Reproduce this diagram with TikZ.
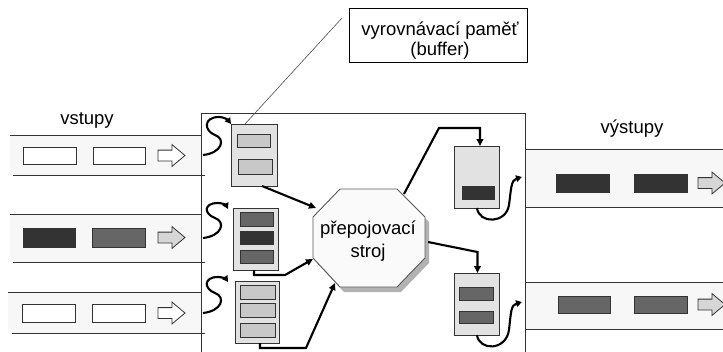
\documentclass[tikz,border=0pt]{standalone}
\usepackage{fontspec}
\setmainfont{Liberation Sans}
\usetikzlibrary{arrows.meta,calc,shapes.arrows}
\definecolor{lanefill}{HTML}{F7F7F7}
\definecolor{buffill}{HTML}{E2E2E2}
\definecolor{pkl}{HTML}{C8C8C8}
\definecolor{pkm}{HTML}{666666}
\definecolor{pkd}{HTML}{333333}
\definecolor{edgec}{HTML}{333333}
\definecolor{arrfill}{HTML}{D6D6D6}
\newcommand\mybox[6]{\node[#6, minimum width={#4-#2}, minimum height={#5-#3}] (#1) at ({(#2+#4)/2},{(#3+#5)/2}) {};}
\tikzset{
  lbl/.style={font=\fontsize{18.5}{20}\selectfont, inner sep=0pt},
  laneline/.style={draw=edgec, line width=0.9pt},
  pkt/.style={draw=edgec, line width=0.8pt, inner sep=0pt, outer sep=0pt},
  buf/.style={draw=edgec, line width=0.9pt, fill=buffill, inner sep=0pt, outer sep=0pt},
  blk/.style={single arrow, draw=edgec, line width=0.8pt, inner sep=5pt, single arrow head extend=5.5pt, single arrow tip angle=80, minimum height=27pt, anchor=west, outer sep=0pt},
  conn/.style={line width=2.1pt, -{Triangle[length=7pt,width=6.5pt]}},
  curvy/.style={line width=2.1pt, -{Triangle[length=6pt,width=6.5pt]}},
}
\begin{document}
\begin{tikzpicture}[x=1pt,y=-1pt]
\useasboundingbox (0,0) rectangle (723,351);
\clip (0,0) rectangle (723,351);
% input lanes
\fill[lanefill] (10,135) rectangle (204,175);
\draw[laneline] (10,135) -- (201,135);
\draw[laneline] (13,175) -- (204,175);
\fill[lanefill] (10,214) rectangle (204,262);
\draw[laneline] (10,214) -- (201,214);
\draw[laneline] (13,262) -- (204,262);
\fill[lanefill] (8,292) rectangle (204,333);
\draw[laneline] (8,292) -- (201,292);
\draw[laneline] (12,333) -- (204,333);
% output lanes
\fill[lanefill] (525,149) rectangle (723,207);
\draw[laneline] (525,149) -- (723,149);
\draw[laneline] (525,207) -- (723,207);
\fill[lanefill] (525,282) rectangle (723,329);
\draw[laneline] (525,282) -- (723,282);
\draw[laneline] (525,329) -- (723,329);
% main box
\draw[draw=edgec, line width=0.9pt, fill=white] (201,113) rectangle (525,360);
\draw[laneline] (201,175) -- (205,175);
\draw[laneline] (201,262) -- (205,262);
\draw[laneline] (201,333) -- (205,333);
% labels
\node[lbl] (vin) at (87,120) {vstupy};
\node[lbl] (vout) at (632,129) {výstupy};
% input packets
\mybox{i1a}{23}{147}{76}{164}{pkt, fill=white}
\mybox{i1b}{93}{147}{145}{164}{pkt, fill=white}
\node[blk, fill=white] (i1c) at (158,155.5) {};
\mybox{i2a}{23}{228}{75}{247}{pkt, fill=pkd}
\mybox{i2b}{92}{228}{145}{247}{pkt, fill=pkm}
\node[blk, fill=arrfill] (i2c) at (158,237.5) {};
\mybox{i3a}{22}{304}{75}{322}{pkt, fill=white}
\mybox{i3b}{92}{304}{145}{322}{pkt, fill=white}
\node[blk, fill=white] (i3c) at (158,313) {};
% output packets
\mybox{o1a}{556}{174}{609}{192}{pkt, fill=pkd}
\mybox{o1b}{634}{174}{687}{192}{pkt, fill=pkd}
\node[blk, fill=arrfill] (o1c) at (698,183) {};
\mybox{o2a}{558}{296}{610}{313}{pkt, fill=pkm}
\mybox{o2b}{634}{296}{687}{313}{pkt, fill=pkm}
\node[blk, fill=arrfill] (o2c) at (698,304.5) {};
% input buffers
\mybox{b1}{231}{124}{277}{186}{buf}
\mybox{b1a}{237}{134}{270}{147}{pkt, fill=pkl}
\mybox{b1b}{238}{159}{272}{174}{pkt, fill=pkl}
\mybox{b2}{233}{208}{278}{270}{buf}
\mybox{b2a}{240}{212}{273}{226}{pkt, fill=pkm}
\mybox{b2b}{240}{231}{273}{244}{pkt, fill=pkd}
\mybox{b2c}{240}{250}{273}{263}{pkt, fill=pkm}
\mybox{b3}{235}{281}{279}{343}{buf}
\mybox{b3a}{240}{285}{275}{299}{pkt, fill=pkl}
\mybox{b3b}{240}{303}{275}{317}{pkt, fill=pkl}
\mybox{b3c}{240}{323}{275}{337}{pkt, fill=pkl}
% output buffers
\mybox{ob1}{454}{146}{499}{208}{buf}
\mybox{ob1a}{462}{186}{494}{199}{pkt, fill=pkd}
\mybox{ob2}{454}{273}{499}{335}{buf}
\mybox{ob2a}{459}{287}{493}{300}{pkt, fill=pkm}
\mybox{ob2b}{459}{311}{493}{323}{pkt, fill=pkm}
% switch octagon
\fill[black!30] (344,194) -- (401,194) -- (429,222) -- (429,263) -- (401,292) -- (344,292) -- (317,263) -- (317,222) -- cycle;
\draw[draw=black!65, line width=0.9pt, fill=black!2] (340,189) -- (397,189) -- (425,217) -- (425,258) -- (397,287) -- (340,287) -- (313,258) -- (313,217) -- cycle;
\node[lbl, align=center, font=\fontsize{18.5}{23}\selectfont] (sw) at (368,241) {přepojovací\\stroj};
\coordinate (swin1) at (316,208);
\coordinate (swin2) at (313,259);
\coordinate (swin3) at (335,283);
\coordinate (swout1) at (404,194);
\coordinate (swout2) at (428,242);
% connectors
\draw[conn] ([xshift=8pt]b1.south) -- (swin1);
\draw[conn] ([xshift=-1.5pt]b2.south) -- ++(0,5) -- (285,275) -- (swin2);
\draw[conn] ([xshift=3pt]b3.south) -- ++(0,5) -- (306,348) -- (swin3);
\draw[conn] (swout1) -- (439,128) -- ([xshift=3.5pt]ob1.north |- 0,128) -- ([xshift=3.5pt]ob1.north);
\draw[conn] (swout2) -- (477.5,252) -- ([xshift=1pt]ob2.north);
% arrival curves
\draw[curvy] (203,155) .. controls (222,153) and (226,139) .. (215,135) .. controls (204,131) and (203,117) .. (219,117) .. controls (224,117) and (228,120) .. (231,124);
\draw[curvy] (203,238) .. controls (222,236) and (226,222) .. (215,218) .. controls (204,214) and (203,203) .. (218,203) .. controls (222,203) and (226,205) .. (228,209);
\draw[curvy] (203,313) .. controls (222,311) and (226,297) .. (215,293) .. controls (204,289) and (203,277) .. (218,277) .. controls (222,277) and (226,279) .. (228,282);
% departure hooks
\draw[curvy] ([xshift=0.5pt]ob1.south) .. controls (479,224) and (506,224) .. (509,205) .. controls (511,190) and (511,180) .. (522,177);
\draw[curvy] ([xshift=0.5pt]ob2.south) .. controls (479,351) and (506,351) .. (509,330) .. controls (511,312) and (511,305) .. (522,302);
% callout
\node[draw=black, line width=0.7pt, fill=white, minimum width=178, minimum height=54, inner sep=0pt] (call) at (438,35) {};
\node[lbl, align=center] (callt) at (440,41) {vyrovnávací paměť\\(buffer)};
\coordinate (callend) at (342,18);
\draw[draw=black!70, line width=0.6pt] (callend) -- ([xshift=-9pt]b1.north);
\end{tikzpicture}
\end{document}
